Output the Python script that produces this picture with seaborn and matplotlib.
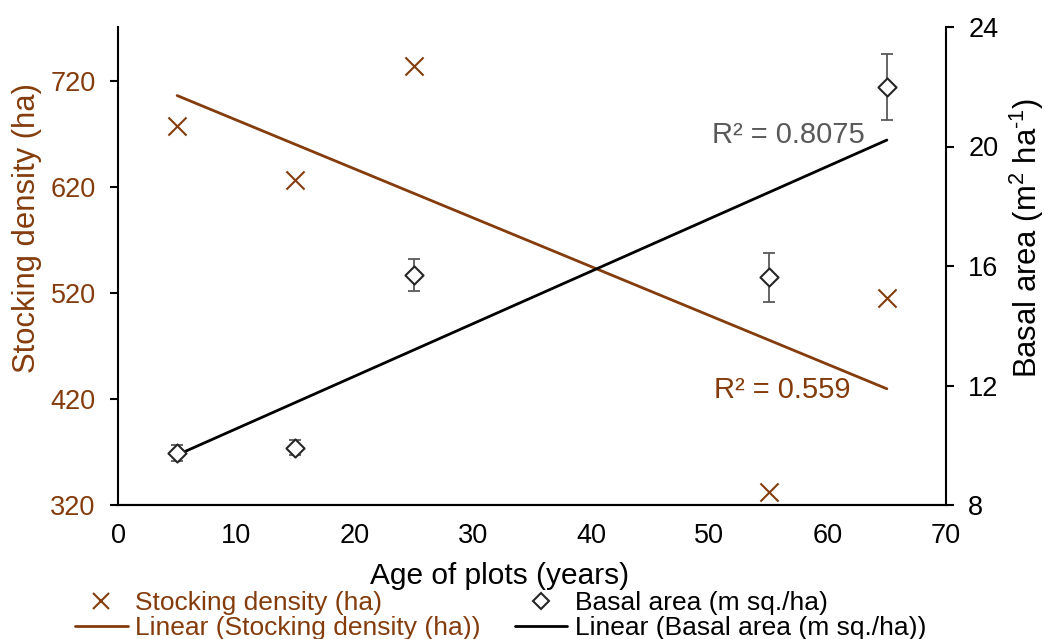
import numpy as np
import pandas as pd
import matplotlib
matplotlib.use("Agg")
import matplotlib.pyplot as plt
import seaborn as sns
from matplotlib.lines import Line2D

# ---- data ----
age = [5, 15, 25, 55, 65]
stocking = [678, 627, 734, 332, 515]
basal = [9.74, 9.91, 15.70, 15.63, 21.99]
basal_err = [0.27, 0.25, 0.55, 0.82, 1.09]
x_ticks = [0, 10, 20, 30, 40, 50, 60, 70]
left_ticks = [320, 420, 520, 620, 720]
right_ticks = [8, 12, 16, 20, 24]
r2_stock = "R² = 0.559"
r2_basal = "R² = 0.8075"

BROWN = "#843C0C"
GREY = "#595959"

sns.set_theme(style="white")
plt.rcParams['font.family'] = ['Liberation Sans', 'DejaVu Sans']
plt.rcParams['text.color'] = 'black'
plt.rcParams['mathtext.fontset'] = 'custom'
plt.rcParams['mathtext.rm'] = 'Liberation Sans'
plt.rcParams['mathtext.it'] = 'Liberation Sans'
plt.rcParams['mathtext.default'] = 'regular'

df = pd.DataFrame({"age": age, "stocking": stocking, "basal": basal, "err": basal_err})

fig = plt.figure(figsize=(10.45, 6.39), dpi=100)
ax = fig.add_axes([118/1045, 1-505/639, (946-118)/1045, (505-27)/639])
ax2 = ax.twinx()

TICK_FS = 19.5
LAB_FS = 22.3
XLAB_FS = 21.5
LEG_FS = 19
R2_FS = 21

# stocking density
sns.scatterplot(data=df, x="age", y="stocking", ax=ax, marker="x", s=170,
                color=BROWN, linewidth=1.5, zorder=3, legend=False)
p1 = np.polyfit(df["age"], df["stocking"], 1)
xs = np.array([min(age), max(age)])
ax.plot(xs, np.polyval(p1, xs), color=BROWN, lw=2, zorder=2)

# basal area
ax2.errorbar(df["age"], df["basal"], yerr=df["err"], fmt="none", ecolor=GREY,
             elinewidth=1.3, capsize=4.5, capthick=1.3, zorder=2)
sns.scatterplot(data=df, x="age", y="basal", ax=ax2, marker="D", s=85,
                facecolor="white", edgecolor="#262626", linewidth=1.5, zorder=4, legend=False)
p2 = np.polyfit(df["age"], df["basal"], 1)
ax2.plot(xs, np.polyval(p2, xs), color="black", lw=2, zorder=3)

# axes
ax.set_xlim(0, 70)
ax.set_ylim(320, 771)
ax2.set_ylim(8, 24)
ax.set_xticks(x_ticks)
ax.set_yticks(left_ticks)
ax2.set_yticks(right_ticks)
ax.set_xlabel("")
ax.set_ylabel("")
ax2.set_ylabel("")
fig.text(27/1045, 1-228/639, "Stocking density (ha)", color=BROWN, fontsize=LAB_FS,
         rotation=90, ha="center", va="center")
fig.text(1027/1045, 1-238/639, "Basal area (m$^{2}$ ha$^{\\text{-}1}$)", color="black",
         fontsize=LAB_FS, rotation=90, ha="center", va="center")
fig.text(500/1045, 1-576/639, "Age of plots (years)", ha="center", va="center",
         fontsize=XLAB_FS, color="black")

for a in (ax, ax2):
    a.spines["top"].set_visible(False)
    for s in a.spines.values():
        s.set_color("black")
        s.set_linewidth(1.5)
ax2.spines["left"].set_visible(False)
ax.spines["right"].set_visible(False)
ax.tick_params(axis="x", direction="out", length=6, width=1.5, colors="black", labelsize=TICK_FS, pad=7)
ax.tick_params(axis="y", direction="out", length=6, width=1.5, colors="black", labelcolor=BROWN,
               labelsize=TICK_FS, pad=10, left=True)
ax2.tick_params(axis="y", direction="out", length=6, width=1.5, colors="black", labelsize=TICK_FS,
                pad=10, right=True)
ax.grid(False); ax2.grid(False)

fig.text(712/1045, 1-135/639, r2_basal, color=GREY, fontsize=R2_FS, ha="left", va="center")
fig.text(714/1045, 1-390/639, r2_stock, color=BROWN, fontsize=R2_FS, ha="left", va="center")

handles = [
    Line2D([], [], ls="none", marker="x", color=BROWN, ms=12, mew=1.5),
    Line2D([], [], color=BROWN, lw=2),
    Line2D([], [], ls="none", marker="D", mfc="white", mec="#262626", ms=8.5, mew=1.5),
    Line2D([], [], color="black", lw=2),
]
labels = ["Stocking density (ha)", "Linear (Stocking density (ha))",
          "Basal area (m sq./ha)", "Linear (Basal area (m sq./ha))"]
leg = fig.legend(handles, labels, ncol=2, loc="upper left", bbox_to_anchor=(75/1045, 1-591/639),
                 frameon=False, fontsize=LEG_FS, handlelength=2.0, handletextpad=0.27,
                 columnspacing=1.3, labelspacing=0.03, borderpad=0, borderaxespad=0)
for t, c in zip(leg.get_texts(), [BROWN, BROWN, "black", "black"]):
    t.set_color(c)

fig.savefig("out.png", dpi=100)
